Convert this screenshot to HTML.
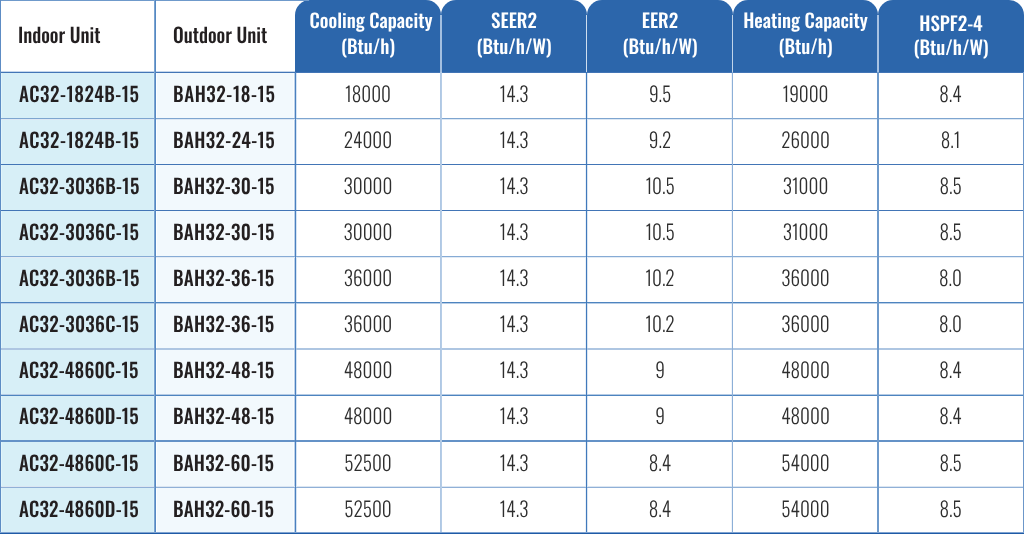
<!DOCTYPE html>
<html lang="en"><head><meta charset="utf-8"><title>Heat Pump System Ratings</title>
<style>
html,body{margin:0;padding:0;background:#fff;}
body{width:1024px;height:534px;position:relative;overflow:hidden;font-family:Oswald,"Liberation Sans",Arial,sans-serif;text-rendering:geometricPrecision;}
.a{position:absolute;}
.t{position:absolute;left:0;top:0;width:1024px;height:534px;will-change:transform;}
.hl{position:absolute;height:1px;left:0;width:1024px;}
.th{position:absolute;top:0;height:72px;background:#2c66ab;border-radius:15px 15px 0 0;color:#fff;text-align:center;font-weight:500;font-size:19px;line-height:26px;}
.th div{position:absolute;left:0;right:0;white-space:nowrap;will-change:transform;}
.lh{position:absolute;top:0;height:72px;color:#231f20;font-weight:500;font-size:19px;line-height:70.4px;white-space:nowrap;}
.k{position:absolute;color:#231f20;font-weight:500;font-size:19px;height:46px;line-height:44px;white-space:nowrap;}
.d{position:absolute;color:#2e2e2e;font-weight:300;font-size:19.2px;height:46px;line-height:43.4px;text-align:center;white-space:nowrap;}
.k .x,.d .x,.lh .x{display:inline-block;transform:scaleY(1.06);}
.nf .x{font-family:"Liberation Sans",Arial,sans-serif;display:inline-block;letter-spacing:0;font-size:22px;}
.nf .th .x,.nf .lh .x,.nf .k .x{font-weight:700;}
.nf .d .x{font-weight:400;}
.nf .th div{left:-100px;right:-100px;}
.nf .lh .x,.nf .k .x{transform-origin:0 50%;}

</style></head><body>
<div class="a" style="left:0;top:72px;width:155px;height:462px;background:#d7eff7"></div>
<div class="a" style="left:155px;top:72px;width:140px;height:462px;background:#f2f9fd"></div>
<div class="th" style="left:295px;width:146px"><div style="top:7px;padding-left:6px"><span class="x">Cooling Capacity</span></div><div style="top:33.3px"><span class="x">(Btu/h)</span></div></div>
<div class="th" style="left:441px;width:146px"><div style="top:7.3px"><span class="x">SEER2</span></div><div style="top:33.3px"><span class="x">(Btu/h/W)</span></div></div>
<div class="th" style="left:587px;width:146px"><div style="top:7.3px"><span class="x">EER2</span></div><div style="top:33.3px"><span class="x">(Btu/h/W)</span></div></div>
<div class="th" style="left:733px;width:145px"><div style="top:7.3px"><span class="x">Heating Capacity</span></div><div style="top:33.3px"><span class="x">(Btu/h)</span></div></div>
<div class="th" style="left:878px;width:146px"><div style="top:9.5px"><span class="x">HSPF2-4</span></div><div style="top:34px"><span class="x">(Btu/h/W)</span></div></div>
<div class="a" style="left:0;top:0;width:309px;height:1px;background:#6f9acb"></div>
<div class="a" style="left:1px;top:73px;width:1px;height:461px;background:#e2f5fb"></div>
<div class="a" style="left:153px;top:73px;width:1px;height:461px;background:#dcf3f9"></div>
<div class="a" style="left:156px;top:73px;width:1px;height:461px;background:#ffffff"></div>
<div class="a" style="left:293px;top:73px;width:1px;height:461px;background:#fafdff"></div>
<div class="a" style="left:294px;top:73px;width:1px;height:461px;background:#bcd2ea"></div>
<div class="a" style="left:296px;top:73px;width:1px;height:461px;background:#d5e3f2"></div>
<div class="a" style="left:585px;top:73px;width:1px;height:461px;background:#eaf1f8"></div>
<div class="a" style="left:587px;top:73px;width:1px;height:461px;background:#dae6f3"></div>
<div class="a" style="left:731px;top:73px;width:1px;height:461px;background:#eef3fa"></div>
<div class="hl" style="top:72px;background:#4275b6"></div>
<div class="hl" style="top:118px;background:#7ea5d0"></div>
<div class="hl" style="top:119px;background:#dde8f4"></div>
<div class="hl" style="top:164px;background:#4275b6"></div>
<div class="hl" style="top:210px;background:#4275b6"></div>
<div class="hl" style="top:256px;background:#86abd5"></div>
<div class="hl" style="top:257px;background:#e2ebf5"></div>
<div class="hl" style="top:302px;background:#4d84bf"></div>
<div class="hl" style="top:303px;background:#b8cee7"></div>
<div class="hl" style="top:348px;background:#aec6e2"></div>
<div class="hl" style="top:349px;background:#aec6e2"></div>
<div class="hl" style="top:394px;background:#b5cbe5"></div>
<div class="hl" style="top:395px;background:#4d84bf"></div>
<div class="hl" style="top:440px;background:#6492c7"></div>
<div class="hl" style="top:441px;background:#6492c7"></div>
<div class="hl" style="top:486px;background:#dbe6f2"></div>
<div class="hl" style="top:487px;background:#90b0d7"></div>
<div class="a" style="left:0;top:71px;width:295px;height:1px;background:#c5d7ec"></div>
<div class="a" style="left:0px;top:0px;width:1px;height:534px;background:#5d8cc4"></div>
<div class="a" style="left:154px;top:0px;width:1px;height:534px;background:#7ba4d1"></div>
<div class="a" style="left:155px;top:0px;width:1px;height:534px;background:#5589c3"></div>
<div class="a" style="left:295px;top:72px;width:1px;height:462px;background:#4a80bf"></div>
<div class="a" style="left:440px;top:72px;width:1px;height:462px;background:#afc8e4"></div>
<div class="a" style="left:441px;top:72px;width:1px;height:462px;background:#b5cce6"></div>
<div class="a" style="left:586px;top:72px;width:1px;height:462px;background:#4079bb"></div>
<div class="a" style="left:732px;top:72px;width:1px;height:462px;background:#8cafd7"></div>
<div class="a" style="left:877px;top:72px;width:1px;height:462px;background:#6e9acb"></div>
<div class="a" style="left:878px;top:72px;width:1px;height:462px;background:#6e9acb"></div>
<div class="a" style="left:1023px;top:72px;width:1px;height:462px;background:#6c97c9"></div>
<div class="a" style="left:0;top:532px;width:1024px;height:1px;background:#7fa3d1"></div>
<div class="a" style="left:0;top:533px;width:1024px;height:1px;background:#1f5ba6"></div>
<div class="a" style="left:440px;top:15px;width:2px;height:57px;background:#a3bfe0"></div>
<div class="a" style="left:586px;top:15px;width:1px;height:57px;background:#cfdeef"></div>
<div class="a" style="left:732px;top:15px;width:1px;height:57px;background:#c0d4ea"></div>
<div class="a" style="left:877px;top:15px;width:2px;height:57px;background:#a8c2e2"></div>
<div class="t">
<div class="lh" style="left:18px"><span class="x">Indoor Unit</span></div>
<div class="lh" style="left:173px"><span class="x">Outdoor Unit</span></div>
<div class="k" style="left:19px;top:72.0px;letter-spacing:0.52px"><span class="x">AC32-1824B-15</span></div>
<div class="k" style="left:173px;top:72.0px;letter-spacing:0.58px"><span class="x">BAH32-18-15</span></div>
<div class="d" style="left:295px;width:146px;top:72.0px"><span class="x">18000</span></div>
<div class="d" style="left:441px;width:146px;top:72.0px"><span class="x">14.3</span></div>
<div class="d" style="left:587px;width:146px;top:72.0px"><span class="x">9.5</span></div>
<div class="d" style="left:733px;width:145px;top:72.0px"><span class="x">19000</span></div>
<div class="d" style="left:878px;width:145px;top:72.0px"><span class="x">8.4</span></div>
<div class="k" style="left:19px;top:118.07px;letter-spacing:0.52px"><span class="x">AC32-1824B-15</span></div>
<div class="k" style="left:173px;top:118.07px;letter-spacing:0.38px"><span class="x">BAH32-24-15</span></div>
<div class="d" style="left:295px;width:146px;top:118.07px"><span class="x">24000</span></div>
<div class="d" style="left:441px;width:146px;top:118.07px"><span class="x">14.3</span></div>
<div class="d" style="left:587px;width:146px;top:118.07px"><span class="x">9.2</span></div>
<div class="d" style="left:733px;width:145px;top:118.07px"><span class="x">26000</span></div>
<div class="d" style="left:878px;width:145px;top:118.07px"><span class="x">8.1</span></div>
<div class="k" style="left:19px;top:164.14px;letter-spacing:0.28px"><span class="x">AC32-3036B-15</span></div>
<div class="k" style="left:173px;top:164.14px;letter-spacing:0.28px"><span class="x">BAH32-30-15</span></div>
<div class="d" style="left:295px;width:146px;top:164.14px"><span class="x">30000</span></div>
<div class="d" style="left:441px;width:146px;top:164.14px"><span class="x">14.3</span></div>
<div class="d" style="left:587px;width:146px;top:164.14px"><span class="x">10.5</span></div>
<div class="d" style="left:733px;width:145px;top:164.14px"><span class="x">31000</span></div>
<div class="d" style="left:878px;width:145px;top:164.14px"><span class="x">8.5</span></div>
<div class="k" style="left:19px;top:210.21px;letter-spacing:0.28px"><span class="x">AC32-3036C-15</span></div>
<div class="k" style="left:173px;top:210.21px;letter-spacing:0.28px"><span class="x">BAH32-30-15</span></div>
<div class="d" style="left:295px;width:146px;top:210.21px"><span class="x">30000</span></div>
<div class="d" style="left:441px;width:146px;top:210.21px"><span class="x">14.3</span></div>
<div class="d" style="left:587px;width:146px;top:210.21px"><span class="x">10.5</span></div>
<div class="d" style="left:733px;width:145px;top:210.21px"><span class="x">31000</span></div>
<div class="d" style="left:878px;width:145px;top:210.21px"><span class="x">8.5</span></div>
<div class="k" style="left:19px;top:256.28px;letter-spacing:0.28px"><span class="x">AC32-3036B-15</span></div>
<div class="k" style="left:173px;top:256.28px;letter-spacing:0.28px"><span class="x">BAH32-36-15</span></div>
<div class="d" style="left:295px;width:146px;top:256.28px"><span class="x">36000</span></div>
<div class="d" style="left:441px;width:146px;top:256.28px"><span class="x">14.3</span></div>
<div class="d" style="left:587px;width:146px;top:256.28px"><span class="x">10.2</span></div>
<div class="d" style="left:733px;width:145px;top:256.28px"><span class="x">36000</span></div>
<div class="d" style="left:878px;width:145px;top:256.28px"><span class="x">8.0</span></div>
<div class="k" style="left:19px;top:302.35px;letter-spacing:0.28px"><span class="x">AC32-3036C-15</span></div>
<div class="k" style="left:173px;top:302.35px;letter-spacing:0.28px"><span class="x">BAH32-36-15</span></div>
<div class="d" style="left:295px;width:146px;top:302.35px"><span class="x">36000</span></div>
<div class="d" style="left:441px;width:146px;top:302.35px"><span class="x">14.3</span></div>
<div class="d" style="left:587px;width:146px;top:302.35px"><span class="x">10.2</span></div>
<div class="d" style="left:733px;width:145px;top:302.35px"><span class="x">36000</span></div>
<div class="d" style="left:878px;width:145px;top:302.35px"><span class="x">8.0</span></div>
<div class="k" style="left:19px;top:348.42px;letter-spacing:0.19px"><span class="x">AC32-4860C-15</span></div>
<div class="k" style="left:173px;top:348.42px;letter-spacing:0.28px"><span class="x">BAH32-48-15</span></div>
<div class="d" style="left:295px;width:146px;top:348.42px"><span class="x">48000</span></div>
<div class="d" style="left:441px;width:146px;top:348.42px"><span class="x">14.3</span></div>
<div class="d" style="left:587px;width:146px;top:348.42px"><span class="x">9</span></div>
<div class="d" style="left:733px;width:145px;top:348.42px"><span class="x">48000</span></div>
<div class="d" style="left:878px;width:145px;top:348.42px"><span class="x">8.4</span></div>
<div class="k" style="left:19px;top:394.49px;letter-spacing:0.19px"><span class="x">AC32-4860D-15</span></div>
<div class="k" style="left:173px;top:394.49px;letter-spacing:0.28px"><span class="x">BAH32-48-15</span></div>
<div class="d" style="left:295px;width:146px;top:394.49px"><span class="x">48000</span></div>
<div class="d" style="left:441px;width:146px;top:394.49px"><span class="x">14.3</span></div>
<div class="d" style="left:587px;width:146px;top:394.49px"><span class="x">9</span></div>
<div class="d" style="left:733px;width:145px;top:394.49px"><span class="x">48000</span></div>
<div class="d" style="left:878px;width:145px;top:394.49px"><span class="x">8.4</span></div>
<div class="k" style="left:19px;top:440.56px;letter-spacing:0.19px"><span class="x">AC32-4860C-15</span></div>
<div class="k" style="left:173px;top:440.56px;letter-spacing:0.18px"><span class="x">BAH32-60-15</span></div>
<div class="d" style="left:295px;width:146px;top:440.56px"><span class="x">52500</span></div>
<div class="d" style="left:441px;width:146px;top:440.56px"><span class="x">14.3</span></div>
<div class="d" style="left:587px;width:146px;top:440.56px"><span class="x">8.4</span></div>
<div class="d" style="left:733px;width:145px;top:440.56px"><span class="x">54000</span></div>
<div class="d" style="left:878px;width:145px;top:440.56px"><span class="x">8.5</span></div>
<div class="k" style="left:19px;top:486.63px;letter-spacing:0.19px"><span class="x">AC32-4860D-15</span></div>
<div class="k" style="left:173px;top:486.63px;letter-spacing:0.18px"><span class="x">BAH32-60-15</span></div>
<div class="d" style="left:295px;width:146px;top:486.63px"><span class="x">52500</span></div>
<div class="d" style="left:441px;width:146px;top:486.63px"><span class="x">14.3</span></div>
<div class="d" style="left:587px;width:146px;top:486.63px"><span class="x">8.4</span></div>
<div class="d" style="left:733px;width:145px;top:486.63px"><span class="x">54000</span></div>
<div class="d" style="left:878px;width:145px;top:486.63px"><span class="x">8.5</span></div>
</div>
<script>
(function(){
var s=document.createElement('span');
s.style.cssText='position:absolute;visibility:hidden;white-space:nowrap;font-size:40px;font-family:monospace';
s.textContent='AC32-1824B-15 Cooling Capacity';
document.body.appendChild(s);
var w1=s.getBoundingClientRect().width;
s.style.fontFamily='Oswald,monospace';
var w2=s.getBoundingClientRect().width;
document.body.removeChild(s);
if(Math.abs(w1-w2)>0.5)return;
document.body.className='nf';
var W=[122.83,54.12,45.77,75.17,36.38,75.17,124.62,54.12,63.38,75.17,82.58,94.31,120.52,102.36,46.02,28.78,22.25,46.06,22.44,120.52,102,48.41,28.78,22.41,48.64,19.73,120.55,101.69,48.94,28.78,29.23,45.69,22.2,120.23,101.69,48.94,28.78,29.23,45.69,22.2,120.55,101.44,48.59,28.78,29.39,48.59,22.97,120.23,101.44,48.59,28.78,29.39,48.59,22.97,119.48,101.39,48.72,28.78,9.62,48.72,22.44,119.8,101.39,48.72,28.78,9.62,48.72,22.44,119.48,101.06,47.45,28.78,22.44,48.3,22.2,119.8,101.06,47.45,28.78,22.44,48.3,22.2];
var e=document.querySelectorAll('.x');
for(var i=0;i<e.length&&i<W.length;i++){var w=e[i].getBoundingClientRect().width;if(w>0)e[i].style.transform='translateY(1px) scaleX('+(W[i]/w).toFixed(4)+')';}
})();
</script>
</body></html>
